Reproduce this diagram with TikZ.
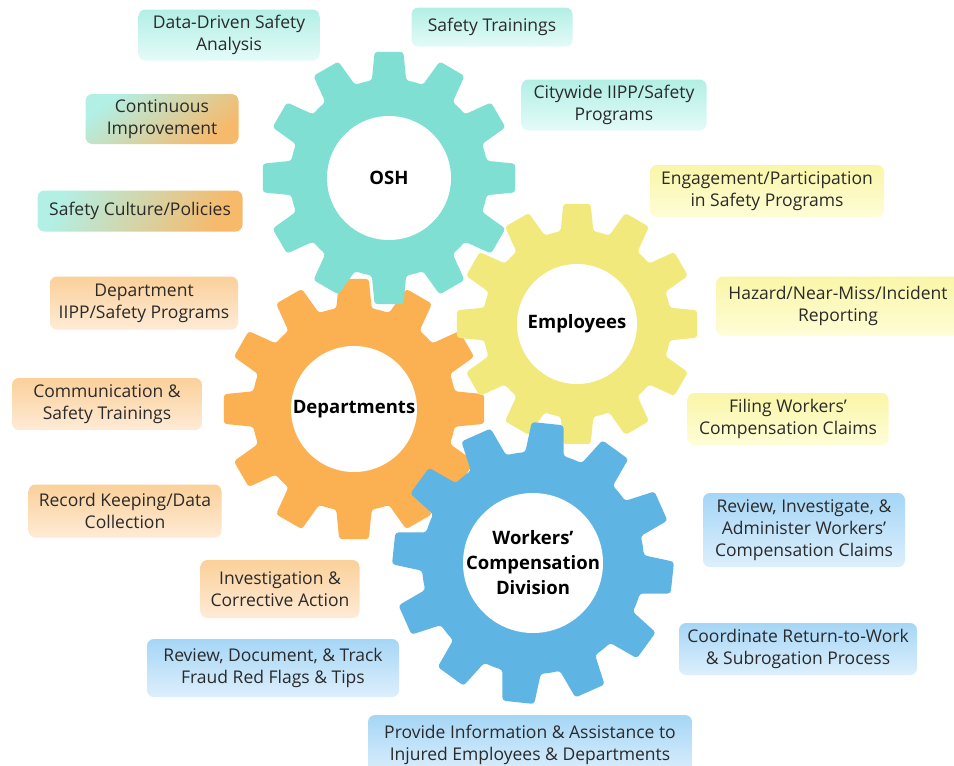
\documentclass[tikz,border=0pt]{standalone}
\usepackage{fontspec}
\setmainfont{Open Sans}
\definecolor{gTeal}{HTML}{7EDFD2}
\definecolor{gOrange}{HTML}{FBB152}
\definecolor{gYellow}{HTML}{F1E97B}
\definecolor{gBlue}{HTML}{5EB5E3}
\definecolor{bTealD}{HTML}{B2EFE5}
\definecolor{bTealL}{HTML}{E4FBF8}
\definecolor{bOrangeD}{HTML}{FBD09A}
\definecolor{bOrangeL}{HTML}{FEEBD6}
\definecolor{bYellowD}{HTML}{FAF6A8}
\definecolor{bYellowL}{HTML}{FEFDD6}
\definecolor{bBlueD}{HTML}{A5D6F6}
\definecolor{bBlueL}{HTML}{DDEFFC}
\definecolor{bMixO}{HTML}{F7B96A}
\definecolor{bMixM}{HTML}{DDF1E4}
\definecolor{txt}{HTML}{2A2A2A}
\newcommand{\gearshape}[5]{%
  \fill[#5, rounded corners=3pt, shift={(#1)}] (#4-10:#3)
    \foreach \k in {0,...,11}{ -- (#4+30*\k-6.5:#2) -- (#4+30*\k+6.5:#2) -- (#4+30*\k+10:#3)
      arc[start angle=#4+30*\k+10, end angle=#4+30*\k+20, radius=#3] } -- cycle;}
\tikzset{
  lbl/.style={rounded corners=7pt, align=center, text=txt, inner sep=0pt,
    font=\fontsize{17.5}{22}\selectfont, shading angle=45},
  tealbox/.style={lbl, top color=bTealD, bottom color=bTealL},
  orangebox/.style={lbl, top color=bOrangeD, bottom color=bOrangeL},
  yellowbox/.style={lbl, top color=bYellowD, bottom color=bYellowL},
  bluebox/.style={lbl, top color=bBlueD, bottom color=bBlueL},
  mixbox/.style={lbl, top color=bTealD, middle color=bMixM, bottom color=bMixO},
  gtitle/.style={align=center, text=black, font=\bfseries\fontsize{18.5}{25}\selectfont},
  hole/.style={fill=white}
}
\begin{document}
\begin{tikzpicture}[x=1pt,y=-1pt]
\useasboundingbox (0,0) rectangle (954,766);
\fill[white] (0,0) rectangle (954,766);
\coordinate (cD) at (354,409);
\coordinate (cO) at (389,178);
\coordinate (cE) at (577,324);
\coordinate (cW) at (533,563);
% gears
\gearshape{cD}{131}{102}{0}{gOrange}
\fill[hole] (cD) circle (63);
\gearshape{cO}{127}{99}{0}{gTeal}
\fill[hole] (cO) circle (62);
\gearshape{cE}{121}{94}{0}{gYellow}
\fill[hole] (cE) circle (60);
\gearshape{cW}{141}{111}{6}{gBlue}
\fill[hole] (cW) circle (70);
\node[gtitle] (tD) at (cD) {Departments};
\node[gtitle] (tO) at (cO) {OSH};
\node[gtitle] (tE) at (cE) {Employees};
\node[gtitle] (tW) at (cW) {Workers'\\Compensation\\Division};
% OSH labels
\node[tealbox, minimum width=181pt, minimum height=51pt] (l1) at (229,35) {Data-Driven Safety\\Analysis};
\node[mixbox, shading angle=40, minimum width=153pt, minimum height=50pt] (l2) at (162,119) {Continuous\\Improvement};
\node[mixbox, shading angle=65, minimum width=205pt, minimum height=41pt] (l3) at (140,211) {Safety Culture/Policies};
\node[tealbox, minimum width=161pt, minimum height=39pt] (l4) at (492,27) {Safety Trainings};
\node[tealbox, minimum width=185pt, minimum height=51pt] (l5) at (614,105) {Citywide IIPP/Safety\\Programs};
% Employees labels
\node[yellowbox, minimum width=234pt, minimum height=52pt] (l6) at (767,191) {Engagement/Participation\\in Safety Programs};
\node[yellowbox, minimum width=244pt, minimum height=59pt] (l7) at (838,306) {Hazard/Near-Miss/Incident\\Reporting};
\node[yellowbox, minimum width=201pt, minimum height=52pt] (l8) at (788,419) {Filing Workers'\\Compensation Claims};
% Departments labels
\node[orangebox, minimum width=188pt, minimum height=53pt] (l9) at (144,303) {Department\\IIPP/Safety Programs};
\node[orangebox, minimum width=190pt, minimum height=52pt] (l10) at (107,404) {Communication \&\\Safety Trainings};
\node[orangebox, minimum width=193pt, minimum height=53pt] (l11) at (125,511) {Record Keeping/Data\\Collection};
\node[orangebox, minimum width=159pt, minimum height=58pt] (l12) at (280,589) {Investigation \&\\Corrective Action};
% WCD labels
\node[bluebox, minimum width=252pt, minimum height=58pt] (l13) at (273,668) {Review, Document, \& Track\\Fraud Red Flags \& Tips};
\node[bluebox, minimum width=324pt, minimum height=60pt] (l14) at (530,745) {Provide Information \& Assistance to\\Injured Employees \& Departments};
\node[bluebox, minimum width=202pt, minimum height=74pt] (l15) at (804,530) {Review, Investigate, \&\\Administer Workers'\\Compensation Claims};
\node[bluebox, minimum width=238pt, minimum height=52pt] (l16) at (798,649) {Coordinate Return-to-Work\\\& Subrogation Process};
\end{tikzpicture}
\end{document}
